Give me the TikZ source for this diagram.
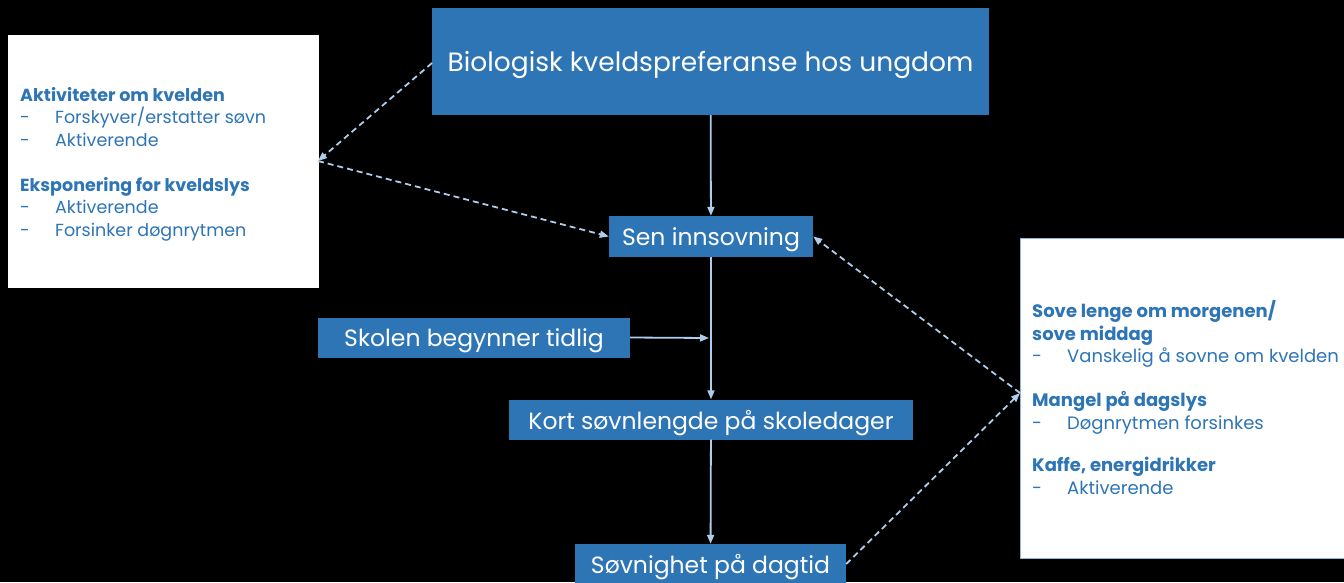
\documentclass[tikz,border=0pt]{standalone}
\usepackage{fontspec}
\setmainfont{Poppins}
\usetikzlibrary{arrows.meta}
\definecolor{boxblue}{HTML}{2E75B6}
\definecolor{linkblue}{HTML}{ADCDEA}
\definecolor{edgeblue}{HTML}{8DB4DE}
\tikzset{
  bluebox/.style={fill=boxblue, draw=none, text=white, inner sep=0pt, align=center},
  whitebox/.style={fill=white, inner sep=0pt, anchor=north west},
  listtext/.style={text=boxblue, inner sep=0pt, anchor=base west, align=left},
  flow/.style={draw=linkblue, line width=1.8pt, -{Triangle[length=9pt,width=7pt]}},
  dasharrow/.style={draw=linkblue, line width=1.8pt, dash pattern=on 6pt off 4pt, -{Triangle[length=9pt,width=7pt]}},
}
\newcommand{\itm}[1]{\makebox[35pt][l]{-}#1}
\newcommand{\lowr}[1]{\raisebox{-3.5pt}[\height][\depth]{#1}}
\begin{document}
\begin{tikzpicture}[x=1pt,y=-1pt]
\fill[black] (0,0) rectangle (1344,582);
\useasboundingbox (0,0) rectangle (1344,582);
\clip (0,0) rectangle (1344,582);

% white side boxes
\node[whitebox, draw=white, minimum width=310pt, minimum height=252pt] (lbox) at (8,35) {};
\node[whitebox, draw=edgeblue, line width=1.2pt, minimum width=345pt, minimum height=320pt] (rbox) at (1020,238) {};

\node[listtext, font=\fontsize{17.5}{22.5}\selectfont] (ltext) at (20,236) {\textbf{Aktiviteter om kvelden}\\
\itm{Forskyver/erstatter søvn}\\
\itm{Aktiverende}\\[22.5pt]
\textbf{Eksponering for kveldslys}\\
\itm{Aktiverende}\\
\itm{Forsinker døgnrytmen}};

\node[listtext, font=\fontsize{18}{22.2}\selectfont] (rtext) at (1032,494) {\textbf{Sove lenge om morgenen/}\\
\textbf{sove middag}\\
\itm{Vanskelig å sovne om kvelden}\\[22.5pt]
\textbf{Mangel på dagslys}\\
\itm{Døgnrytmen forsinkes}\\[20.5pt]
\textbf{Kaffe, energidrikker}\\
\itm{Aktiverende}};

% blue boxes
\node[bluebox, minimum width=557pt, minimum height=107pt, font=\fontsize{26.5}{30}\selectfont] (top) at (710.5,61.5) {\lowr{Biologisk kveldspreferanse hos ungdom}};
\node[bluebox, minimum width=204pt, minimum height=41pt, font=\fontsize{23.5}{26}\selectfont] (sen) at (711,236.5) {\lowr{Sen innsovning}};
\node[bluebox, minimum width=312pt, minimum height=40pt, font=\fontsize{23.5}{26}\selectfont] (skolen) at (474,337.5) {\lowr{Skolen begynner tidlig}};
\node[bluebox, minimum width=404pt, minimum height=40pt, font=\fontsize{23.5}{26}\selectfont] (kort) at (711,419.5) {\lowr{Kort søvnlengde på skoledager}};
\node[bluebox, minimum width=271pt, minimum height=40pt, font=\fontsize{23.5}{26}\selectfont] (sov) at (710.5,564) {\lowr{Søvnighet på dagtid}};

% junction points
\coordinate (ts) at (432,63);
\coordinate (lp) at (318,161);
\coordinate (rp) at (1020,393);
\coordinate (j) at (709,338);

% solid flow
\draw[flow] (top) -- (sen);
\draw[flow] (sen) -- (kort);
\draw[flow] (skolen.east) -- (j);
\draw[flow] (kort) -- (sov);

% dashed links
\draw[dasharrow] (ts) -- (lp);
\draw[dasharrow] (lp) -- (sen.west);
\draw[dasharrow] (rp) -- (sen.east);
\draw[dasharrow] (sov.east) -- (rp);
\end{tikzpicture}
\end{document}
